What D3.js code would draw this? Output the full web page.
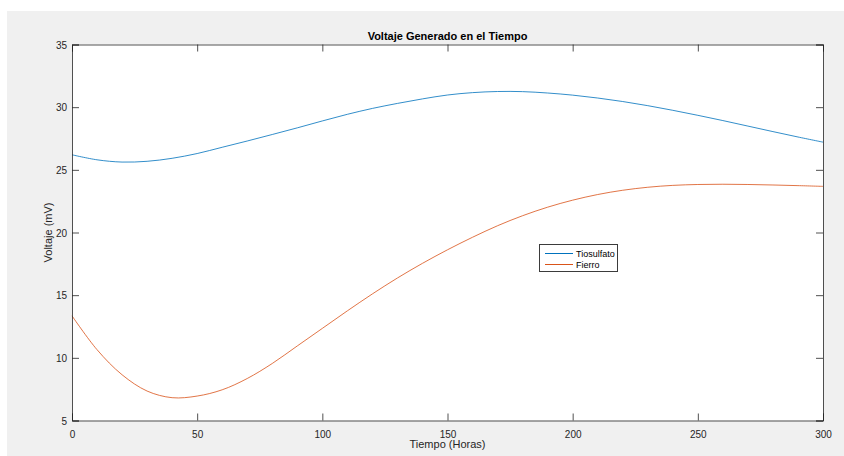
<!DOCTYPE html>
<html>
<head>
<meta charset="utf-8">
<script src="https://cdn.jsdelivr.net/npm/d3@7"></script>
<style>
html,body{margin:0;padding:0;background:#fff;}
svg{display:block;font-family:"Liberation Sans",Arial,Helvetica,sans-serif;}
</style>
</head>
<body>
<svg id="chart" width="844" height="456"></svg>
<script>
const hours = [0,10,20,30,40,50,60,70,80,90,100,110,120,130,140,150,160,170,180,190,200,210,220,230,240,250,260,270,280,290,300];
const tiosulfato = [26.2,25.8,25.62,25.68,25.92,26.3,26.8,27.3,27.82,28.35,28.9,29.43,29.9,30.3,30.66,30.97,31.16,31.25,31.24,31.13,30.96,30.73,30.45,30.12,29.75,29.35,28.93,28.49,28.05,27.62,27.21];
const fierro = [13.35,10.65,8.65,7.35,6.82,6.95,7.45,8.35,9.55,10.95,12.35,13.75,15.1,16.37,17.54,18.62,19.62,20.54,21.34,22.02,22.58,23.03,23.37,23.61,23.76,23.83,23.85,23.83,23.79,23.74,23.68];
const seriesNames = ["Tiosulfato","Fierro"];
const seriesColors = ["#0072BD","#D95319"];
const xTicks = [0,50,100,150,200,250,300];
const yTicks = [5,10,15,20,25,30,35];
const title = "Voltaje Generado en el Tiempo";
const xLabel = "Tiempo (Horas)";
const yLabel = "Voltaje (mV)";

const svg = d3.select("#chart");
const W = 844, H = 456;
const L = 72, R = 823, T = 44.5, B = 420.5;
const axisColor = "#262626";

svg.append("rect").attr("x",7).attr("y",11).attr("width",W-7).attr("height",H-11).attr("fill","#f0f0f0");
svg.append("rect").attr("x",L).attr("y",T).attr("width",R-L).attr("height",B-T).attr("fill","#fff");

const x = d3.scaleLinear().domain([0,300]).range([L,R]);
const y = d3.scaleLinear().domain([5,35]).range([B,T]);

const datasets = [tiosulfato, fierro];
const line = d3.line().x((d,i)=>x(hours[i])).y(d=>y(d)).curve(d3.curveCatmullRom.alpha(0.5));
datasets.forEach((ds,k)=>{
  svg.append("path").datum(ds).attr("d",line).attr("fill","none")
    .attr("stroke",seriesColors[k]).attr("stroke-width",1).attr("opacity",0.8);
});

// axes
const gx = svg.append("g").attr("transform",`translate(0,${B})`)
  .call(d3.axisBottom(x).tickValues(xTicks).tickSize(-7).tickPadding(10));
const gy = svg.append("g").attr("transform",`translate(${L},0)`)
  .call(d3.axisLeft(y).tickValues(yTicks).tickSize(-7).tickPadding(5));
const gxt = svg.append("g").attr("transform",`translate(0,${T})`)
  .call(d3.axisTop(x).tickValues(xTicks).tickSize(-7).tickFormat(""));
const gyr = svg.append("g").attr("transform",`translate(${R},0)`)
  .call(d3.axisRight(y).tickValues(yTicks).tickSize(-7).tickFormat(""));
[gx,gy,gxt,gyr].forEach(g=>{
  g.select(".domain").attr("stroke",axisColor).attr("stroke-width",1).attr("opacity",0.8);
  g.selectAll(".tick line").attr("stroke",axisColor).attr("opacity",0.8);
  g.selectAll(".tick text").attr("fill",axisColor).attr("font-size",10)
    .attr("font-family","'Liberation Sans',Arial,sans-serif");
});
gy.selectAll(".tick text").attr("dy","0.35em");

// title & labels
svg.append("text").attr("x",(L+R)/2).attr("y",40).attr("text-anchor","middle")
  .attr("font-size",11).attr("font-weight","bold").attr("fill","#000").text(title);
svg.append("text").attr("x",(L+R)/2).attr("y",448).attr("text-anchor","middle")
  .attr("font-size",11).attr("fill",axisColor).text(xLabel);
svg.append("text").attr("transform",`translate(52,${(T+B)/2}) rotate(-90)`).attr("text-anchor","middle")
  .attr("font-size",11).attr("fill",axisColor).text(yLabel);

// legend
const lg = svg.append("g");
lg.append("rect").attr("x",539.5).attr("y",244.5).attr("width",78).attr("height",27)
  .attr("fill","#fff").attr("stroke",axisColor).attr("stroke-width",1).attr("opacity",0.9);
seriesNames.forEach((n,i)=>{
  const yy = 253.5 + i*11;
  lg.append("line").attr("x1",545).attr("x2",573).attr("y1",yy).attr("y2",yy)
    .attr("stroke",seriesColors[i]).attr("stroke-width",1);
  lg.append("text").attr("x",576).attr("y",yy).attr("dy","0.35em").attr("font-size",9)
    .attr("fill","#000").text(n);
});
</script>
</body>
</html>
